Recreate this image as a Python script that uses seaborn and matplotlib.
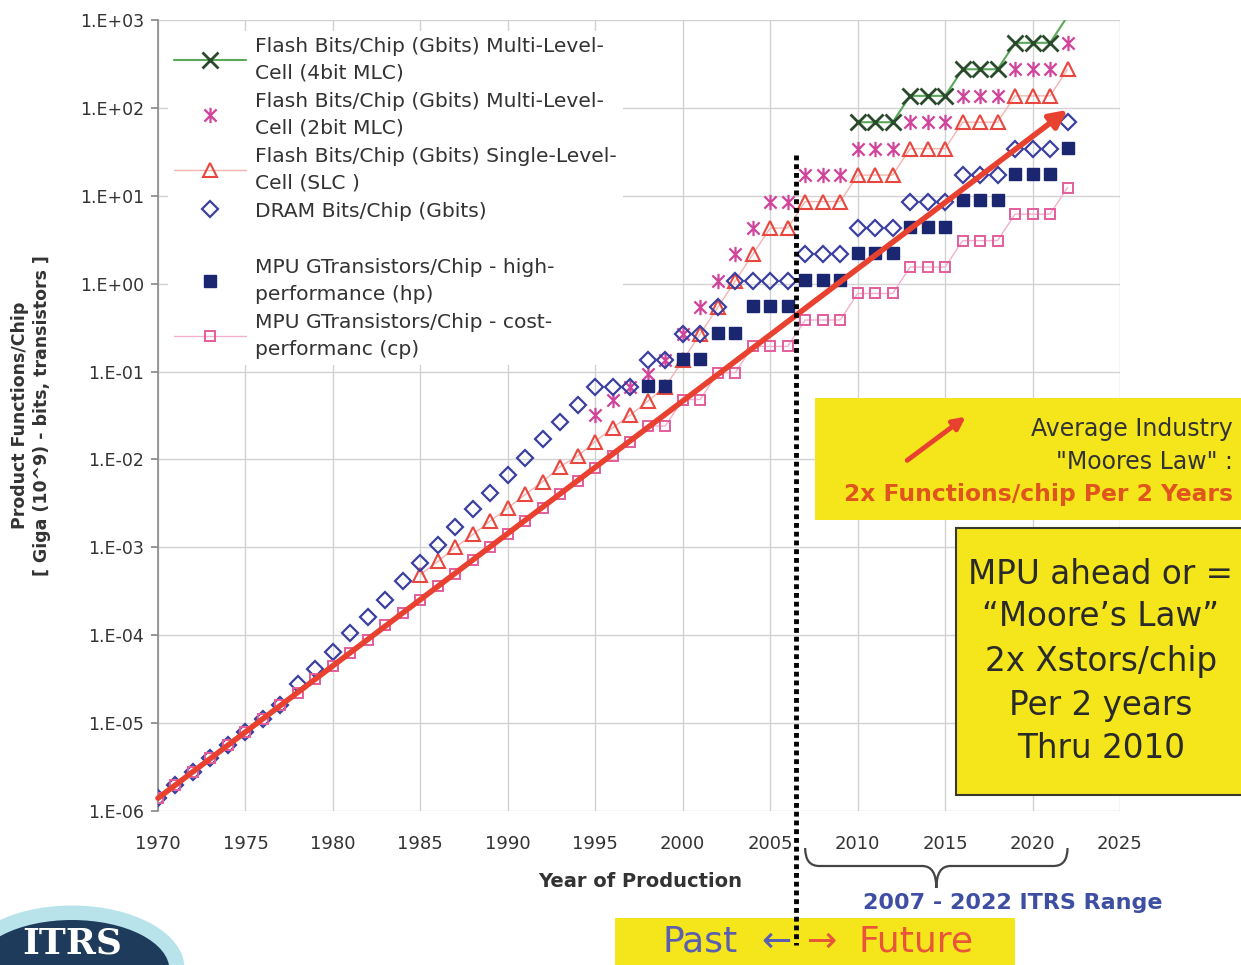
import matplotlib
matplotlib.use("Agg")
import matplotlib.pyplot as plt
import matplotlib.transforms as mtransforms
from matplotlib.lines import Line2D
from matplotlib.patches import Rectangle, Ellipse, PathPatch, FancyArrowPatch
from matplotlib.path import Path
from matplotlib.ticker import NullLocator
import seaborn as sns

# ---------------- data ----------------
# Flash, 4-bit multi-level cell (Gbits)
mlc4_years = [2010, 2011, 2012, 2013, 2014, 2015, 2016, 2017, 2018, 2019, 2020, 2021, 2022]
mlc4_vals = [68.7, 68.7, 68.7, 137, 137, 137, 275, 275, 275, 550, 550, 550, 1100]

# Flash, 2-bit multi-level cell (Gbits)
mlc2_years = list(range(1995, 2023))
mlc2_vals = [0.032, 0.047, 0.067, 0.095, 0.134, 0.268, 0.537, 1.07, 2.15, 4.29,
             8.59, 8.59, 17.2, 17.2, 17.2, 34.4, 34.4, 34.4, 68.7, 68.7, 68.7,
             137, 137, 137, 275, 275, 275, 550]

# Flash, single-level cell (Gbits)
slc_years = list(range(1985, 2023))
slc_vals = [4.9e-4, 6.9e-4, 1.0e-3, 1.4e-3, 2.0e-3, 2.8e-3, 4.0e-3, 5.6e-3, 8.3e-3,
            1.1e-2, 1.6e-2, 2.3e-2, 3.2e-2, 4.6e-2, 0.067, 0.134, 0.268, 0.537,
            1.07, 2.15, 4.29, 4.29, 8.59, 8.59, 8.59, 17.2, 17.2, 17.2, 34.4, 34.4,
            34.4, 68.7, 68.7, 68.7, 137, 137, 137, 275]

# DRAM bits/chip (Gbits)
dram_years = list(range(1970, 2023))
dram_vals = [1.4e-6, 2.0e-6, 2.8e-6, 4.0e-6, 5.6e-6, 7.9e-6, 1.1e-5, 1.6e-5, 2.75e-5,
             4.1e-5, 6.5e-5, 1.07e-4, 1.6e-4, 2.5e-4, 4.1e-4, 6.7e-4, 1.05e-3, 1.7e-3,
             2.7e-3, 4.2e-3, 6.7e-3, 1.05e-2, 1.7e-2, 2.7e-2, 4.2e-2, 0.067, 0.067,
             0.067, 0.134, 0.134, 0.268, 0.268, 0.537, 1.07, 1.07, 1.07, 1.07, 2.15,
             2.15, 2.15, 4.29, 4.29, 4.29, 8.59, 8.59, 8.59, 17.2, 17.2, 17.2, 34.4,
             34.4, 34.4, 68.7]

# MPU high-performance GTransistors/chip
hp_years = list(range(1998, 2023))
hp_vals = [0.069, 0.069, 0.138, 0.138, 0.276, 0.276, 0.553, 0.553, 0.553, 1.106,
           1.106, 1.106, 2.212, 2.212, 2.212, 4.424, 4.424, 4.424, 8.848, 8.848,
           8.848, 17.7, 17.7, 17.7, 35.4]

# MPU cost-performance GTransistors/chip
cp_years = list(range(1970, 2023))
cp_vals = [1.4e-6, 2.0e-6, 2.8e-6, 4.0e-6, 5.6e-6, 7.9e-6, 1.1e-5, 1.6e-5, 2.2e-5,
           3.2e-5, 4.5e-5, 6.3e-5, 8.9e-5, 1.3e-4, 1.8e-4, 2.5e-4, 3.6e-4, 5.0e-4,
           7.1e-4, 1.0e-3, 1.4e-3, 2.0e-3, 2.8e-3, 4.0e-3, 5.7e-3, 8.0e-3, 1.1e-2,
           1.6e-2, 0.024, 0.024, 0.048, 0.048, 0.097, 0.097, 0.193, 0.193, 0.193,
           0.386, 0.386, 0.386, 0.773, 0.773, 0.773, 1.546, 1.546, 1.546, 3.09,
           3.09, 3.09, 6.18, 6.18, 6.18, 12.4]

# Average industry "Moore's Law" trend: 2x per 2 years
trend_years = [1970, 2022]
trend_vals = [1.4e-6, 95]

split_year = 2006.5                  # past / future boundary
itrs_range = [2007, 2022]            # ITRS roadmap span

xticks = [1970, 1975, 1980, 1985, 1990, 1995, 2000, 2005, 2010, 2015, 2020, 2025]
yticks = [1e-6, 1e-5, 1e-4, 1e-3, 1e-2, 1e-1, 1e0, 1e1, 1e2, 1e3]
ytick_labels = ["1.E-06", "1.E-05", "1.E-04", "1.E-03", "1.E-02", "1.E-01",
                "1.E+00", "1.E+01", "1.E+02", "1.E+03"]

labels = [
    "Flash Bits/Chip (Gbits) Multi-Level-\nCell (4bit MLC)",
    "Flash Bits/Chip (Gbits) Multi-Level-\nCell (2bit MLC)",
    "Flash Bits/Chip (Gbits) Single-Level-\nCell (SLC )",
    "DRAM Bits/Chip (Gbits)",
    " ",
    "MPU GTransistors/Chip - high-\nperformance (hp)",
    "MPU GTransistors/Chip - cost-\nperformanc (cp)",
]

# ---------------- style ----------------
W, H = 1241, 965
sns.set_theme(style="white")
plt.rcParams["font.family"] = ["DejaVu Sans"]
TXT = "#333333"

C_GREEN, C_GREEN_MK = "#5aa85a", "#2a4a2c"
C_STAR = "#d0449c"
C_TRI, C_TRI_LINE = "#e8473f", "#f4b4b0"
C_DRAM = "#3b3f9e"
C_HP = "#1b2670"
C_CP, C_CP_LINE = "#e35d9a", "#f2b0cc"
C_TREND = "#e8412f"
YELLOW = "#f5e61c"

star_marker = Path([(0, -1), (0, 1), (-0.8, -0.8), (0.8, 0.8), (-0.8, 0.8), (0.8, -0.8)],
                   [Path.MOVETO, Path.LINETO, Path.MOVETO, Path.LINETO, Path.MOVETO, Path.LINETO])

MS_X, MS_STAR, MS_TRI, MS_D, MS_HP, MS_CP = 12, 11, 10.5, 8, 8, 7.5


def fpx(x, y):
    """pixel position -> figure fraction"""
    return x / W, 1 - y / H


fig = plt.figure(figsize=(W / 100, H / 100), dpi=100)
ax = fig.add_axes([158 / W, 1 - 811 / H, (1120 - 158) / W, (811 - 20) / H])

# ---------------- series ----------------
sns.lineplot(x=mlc4_years, y=mlc4_vals, ax=ax, color=C_GREEN, lw=1.5, marker="x", ms=MS_X,
             mec=C_GREEN_MK, mew=2, markevery=list(range(len(mlc4_vals) - 1)),
             sort=False, errorbar=None, zorder=3)
sns.lineplot(x=mlc2_years, y=mlc2_vals, ax=ax, color=C_STAR, linestyle="None",
             marker=star_marker, ms=MS_STAR, mec=C_STAR, mew=1.6, sort=False, errorbar=None, zorder=3)
sns.lineplot(x=slc_years, y=slc_vals, ax=ax, color=C_TRI_LINE, lw=1, marker="^", ms=MS_TRI,
             mfc="none", mec=C_TRI, mew=1.5, sort=False, errorbar=None, zorder=3)
sns.lineplot(x=dram_years, y=dram_vals, ax=ax, color=C_DRAM, linestyle="None", marker="D",
             ms=MS_D, mfc="none", mec=C_DRAM, mew=1.6, sort=False, errorbar=None, zorder=3)
sns.lineplot(x=hp_years, y=hp_vals, ax=ax, color=C_HP, linestyle="None", marker="s",
             ms=MS_HP, mfc=C_HP, mec=C_HP, mew=1, sort=False, errorbar=None, zorder=3)
sns.lineplot(x=cp_years, y=cp_vals, ax=ax, color=C_CP_LINE, lw=1, marker="s", ms=MS_CP,
             mfc="none", mec=C_CP, mew=1.4, sort=False, errorbar=None, zorder=3)

ax.set_yscale("log")
ax.set_xlim(1970, 2025)
ax.set_ylim(1e-6, 1e3)

# trend arrow
ax.annotate("", xy=(trend_years[1], trend_vals[1]), xytext=(trend_years[0], trend_vals[0]),
            arrowprops=dict(arrowstyle="-|>", color=C_TREND, lw=4, mutation_scale=26,
                            shrinkA=0, shrinkB=0), zorder=5)

# ---------------- axes styling ----------------
ax.set_xticks(xticks)
ax.set_xticklabels([str(t) for t in xticks])
ax.set_yticks(yticks)
ax.set_yticklabels(ytick_labels)
ax.yaxis.set_minor_locator(NullLocator())
ax.grid(True, which="major", color="#d2d2d2", lw=1)
ax.set_axisbelow(True)
for s in ["top", "right", "bottom"]:
    ax.spines[s].set_visible(False)
ax.spines["left"].set_color("#8a8a8a")
ax.spines["left"].set_linewidth(1.2)
ax.tick_params(axis="y", length=5, color="#8a8a8a", labelsize=12.5, labelcolor=TXT, pad=5, left=True)
ax.tick_params(axis="x", length=0, labelsize=13, labelcolor=TXT, pad=17)

ax.set_xlabel("Year of Production", fontsize=14, fontweight="bold", color=TXT)
ax.xaxis.set_label_coords((640 - 158) / 962, (811 - 872) / 791)
ax.set_ylabel("Product Functions/Chip\n[ Giga (10^9) - bits, transistors ]",
              fontsize=12.5, fontweight="bold", color=TXT, linespacing=1.25)
ax.yaxis.set_label_coords((51 - 158) / 962, 0.5)

# ---------------- legend ----------------
handles = [
    Line2D([], [], color=C_GREEN, lw=1.5, marker="x", ms=MS_X, mec=C_GREEN_MK, mew=2),
    Line2D([], [], ls="None", marker=star_marker, ms=MS_STAR, mec=C_STAR, mew=1.6),
    Line2D([], [], color=C_TRI_LINE, lw=1, marker="^", ms=MS_TRI, mfc="none", mec=C_TRI, mew=1.5),
    Line2D([], [], ls="None", marker="D", ms=MS_D, mfc="none", mec=C_DRAM, mew=1.6),
    Line2D([], [], ls="None"),
    Line2D([], [], ls="None", marker="s", ms=MS_HP, mfc=C_HP, mec=C_HP),
    Line2D([], [], color=C_CP_LINE, lw=1, marker="s", ms=MS_CP, mfc="none", mec=C_CP, mew=1.4),
]
leg = ax.legend(handles, labels, loc="upper left", bbox_to_anchor=((168 - 158) / 962, (811 - 31) / 791),
                frameon=True, facecolor="white", edgecolor="none", framealpha=1, fontsize=14.6,
                handlelength=3.55, handletextpad=0.45, labelspacing=0.46, borderpad=0.3,
                borderaxespad=0)
for t in leg.get_texts():
    t.set_color(TXT)
    t.set_linespacing(1.5)
leg.set_zorder(6)

# ---------------- past / future divider ----------------
blend = mtransforms.blended_transform_factory(ax.transData, ax.transAxes)
divider = Line2D([split_year, split_year], [(811 - 155) / 791, (811 - 945) / 791],
                 transform=blend, color="black", lw=3.5, dashes=(1, 0.8),
                 solid_capstyle="butt", dash_capstyle="butt", zorder=8)
fig.add_artist(divider)

# ---------------- ITRS range brace ----------------
bx = mtransforms.blended_transform_factory(ax.transData, fig.transFigure)
y_top, y_mid, y_tip = 1 - 848 / H, 1 - 866 / H, 1 - 888 / H
x0, x1 = itrs_range
xm = (x0 + x1) / 2
brace = Path(
    [(x0, y_top), (x0, y_mid), (x0 + 0.8, y_mid), (xm - 0.8, y_mid), (xm, y_mid), (xm, y_tip),
     (xm, y_mid), (xm + 0.8, y_mid), (x1 - 0.8, y_mid), (x1, y_mid), (x1, y_top)],
    [Path.MOVETO, Path.CURVE3, Path.CURVE3, Path.LINETO, Path.CURVE3, Path.CURVE3,
     Path.CURVE3, Path.CURVE3, Path.LINETO, Path.CURVE3, Path.CURVE3])
fig.add_artist(PathPatch(brace, transform=bx, fill=False, ec="#444444", lw=1.6, zorder=4))
fig.text(*fpx(1013, 903), "2007 - 2022 ITRS Range", ha="center", va="center",
         fontsize=16, fontweight="bold", color="#3d4ea3")

# ---------------- annotation boxes ----------------
fig.add_artist(Rectangle(fpx(815, 520), 426 / W, 122 / H, transform=fig.transFigure,
                         fc=YELLOW, ec="none", zorder=4))
fig.add_artist(FancyArrowPatch(fpx(905, 462), fpx(968, 415), transform=fig.transFigure,
                               arrowstyle="-|>", mutation_scale=18, lw=3.5, color=C_TREND, zorder=5))
fig.text(*fpx(1233, 429), "Average Industry", ha="right", va="center", fontsize=17, color=TXT, zorder=6)
fig.text(*fpx(1233, 462), "\"Moores Law\" :", ha="right", va="center", fontsize=17, color=TXT, zorder=6)
fig.text(*fpx(1233, 494), "2x Functions/chip Per 2 Years", ha="right", va="center", fontsize=16.8,
         fontweight="bold", color="#e0541e", zorder=6)

fig.add_artist(Rectangle(fpx(956, 795), 300 / W, 267 / H, transform=fig.transFigure,
                         fc=YELLOW, ec="#3a3a2a", lw=1.5, zorder=4))
for txt, yy in [("MPU ahead or =", 575), ("\u201cMoore\u2019s Law\u201d", 617), ("2x Xstors/chip", 661),
                ("Per 2 years", 705), ("Thru 2010", 748)]:
    fig.text(*fpx(1101, yy), txt, ha="center", va="center", fontsize=23.5, color="#2a2a2a", zorder=6)

fig.add_artist(Rectangle(fpx(615, 965), 400 / W, 47 / H, transform=fig.transFigure,
                         fc=YELLOW, ec="none", zorder=4))
fig.text(*fpx(700, 942), "Past", ha="center", va="center", fontsize=26, color="#5a5fb0", zorder=6)
fig.text(*fpx(776, 942), "\u2190", ha="center", va="center", fontsize=26, color="#5a5fb0", zorder=6)
fig.text(*fpx(822, 942), "\u2192", ha="center", va="center", fontsize=26, color="#e8553a", zorder=6)
fig.text(*fpx(916, 942), "Future", ha="center", va="center", fontsize=26, color="#e8553a", zorder=6)

# ---------------- ITRS logo ----------------
fig.add_artist(Ellipse(fpx(72, 968), 225 / W, 125 / H, transform=fig.transFigure,
                       fc="#a8dce6", ec="none", alpha=0.8, zorder=4))
fig.add_artist(Ellipse(fpx(72, 970), 195 / W, 100 / H, transform=fig.transFigure,
                       fc="#1f3b5c", ec="none", zorder=5))
fig.text(*fpx(72, 944), "ITRS", ha="center", va="center", fontsize=26, family="DejaVu Serif",
         fontweight="bold", color="white", zorder=6)

fig.savefig("out.png", dpi=100)
